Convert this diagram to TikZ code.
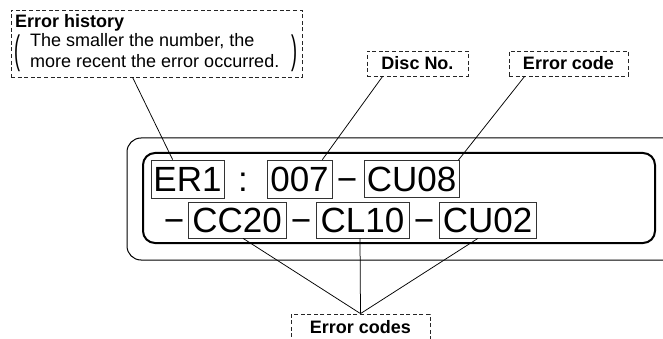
\documentclass[tikz,border=0pt]{standalone}
\usepackage{fontspec}
\setmainfont{Liberation Sans}
\begin{document}
\begin{tikzpicture}[x=1pt,y=-1pt,
  codebox/.style={draw=black!80,line width=0.7pt,inner sep=0pt,font=\fontsize{35}{40}\selectfont},
  codetxt/.style={inner sep=0pt,anchor=base,font=\fontsize{35}{40}\selectfont},
  lblbox/.style={draw=black!85,line width=0.8pt,dash pattern=on 4pt off 2.6pt,inner sep=0pt,font=\fontsize{18}{21}\selectfont\bfseries},
  smalltxt/.style={inner sep=0pt,anchor=base west,font=\fontsize{18}{21}\selectfont},
  conn/.style={line width=0.75pt,black}]
\clip (0,0) rectangle (663,339);
\useasboundingbox (0,0) rectangle (663,339);
% frames
\draw[line width=1pt,rounded corners=14pt] (700,138) -- (127,138) -- (127,260) -- (700,260);
\draw[line width=2pt,rounded corners=12pt] (143,153) rectangle (655,243);
% code boxes row 1
\node[codebox,minimum width=73pt,minimum height=38pt] (er1) at (187.5,179) {ER1};
\node[codetxt] (colon) at (243,191.5) {:};
\node[codebox,minimum width=65pt,minimum height=38pt] (d007) at (299.5,179) {007};
\node[codetxt] (dashA) at (347,191.5) {−};
\node[codebox,minimum width=95pt,minimum height=37pt] (cu08) at (411.5,179) {CU08};
% row 2
\node[codetxt] (dashB) at (174,232.5) {−};
\node[codebox,minimum width=98pt,minimum height=36pt] (cc20) at (237,220) {CC20};
\node[codetxt] (dashC) at (301,232.5) {−};
\node[codebox,minimum width=93pt,minimum height=36pt] (cl10) at (362.5,220) {CL10};
\node[codetxt] (dashD) at (424,232.5) {−};
\node[codebox,minimum width=97pt,minimum height=36pt] (cu02) at (487.5,220) {CU02};
% label boxes
\node[lblbox,minimum width=291pt,minimum height=67pt] (hist) at (156.5,43.5) {};
\node[smalltxt,font=\fontsize{18}{21}\selectfont\bfseries] (histtitle) at (15,28) {Error history};
\node[smalltxt] (histl1) at (30,47) {The smaller the number, the};
\node[smalltxt] (histl2) at (30,68) {more recent the error occurred.};
\node[inner sep=0pt,font=\fontsize{18}{21}\selectfont] (lpar) at (17,53.5) {\scalebox{1}[2.2]{(}};
\node[inner sep=0pt,font=\fontsize{18}{21}\selectfont] (rpar) at (294.5,53.5) {\scalebox{1}[2.2]{)}};
\node[lblbox,minimum width=101pt,minimum height=25pt] (disc) at (417.5,63.5) {Disc No.};
\node[lblbox,minimum width=119pt,minimum height=25pt] (code) at (568.5,63.5) {Error code};
\node[lblbox,minimum width=139pt,minimum height=26pt] (codes) at (360.5,327) {Error codes};
% connectors
\draw[conn] ([xshift=122pt]hist.south west) -- ([xshift=22pt]er1.north west);
\draw[conn] ([xshift=16pt]disc.south west) -- ([xshift=-10pt]d007.north east);
\draw[conn] ([xshift=16pt]code.south west) -- ([xshift=-1pt]cu08.north east);
\draw[conn] (codes.north) -- ([xshift=6pt]cc20.south);
\draw[conn] (codes.north) -- ([xshift=-2.5pt]cl10.south);
\draw[conn] (codes.north) -- ([xshift=-9.5pt]cu02.south);
\end{tikzpicture}
\end{document}
